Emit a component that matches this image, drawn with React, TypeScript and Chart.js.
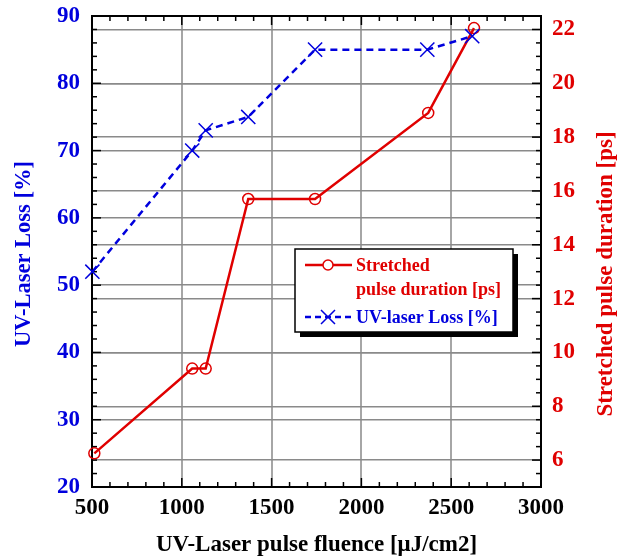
import { useEffect, useRef } from 'react';
import { Chart, registerables } from 'chart.js';
Chart.register(...registerables);

const lossFluence = [502, 1058, 1133, 1370, 1742, 2367, 2617];
const lossValues = [52, 70, 73, 75, 85, 85, 87];
const durFluence = [513, 1058, 1133, 1370, 1742, 2372, 2627];
const durValues = [6.25, 9.4, 9.4, 15.7, 15.7, 18.9, 22.05];

const xTicks = [500, 1000, 1500, 2000, 2500, 3000];
const leftTicks = [20, 30, 40, 50, 60, 70, 80, 90];
const rightTicks = [6, 8, 10, 12, 14, 16, 18, 20, 22];

const xTitle = 'UV-Laser pulse fluence [\u03bcJ/cm2]';
const yLeftTitle = 'UV-Laser Loss [%]';
const yRightTitle = 'Stretched pulse duration [ps]';
const legendDur = ['Stretched', 'pulse duration [ps]'];
const legendLoss = 'UV-laser Loss [%]';

const FONT = '"Liberation Serif", "Times New Roman", serif';
const BLUE = '#0000dd';
const RED = '#e00000';

const framePlugin = {
  id: 'frameTicks',
  beforeDatasetsDraw(chart: any) {
    const ctx = chart.ctx;
    const a = chart.chartArea;
    const x = chart.scales.x;
    const yl = chart.scales.y;
    const yr = chart.scales.y2;
    ctx.save();
    ctx.strokeStyle = '#000';
    ctx.lineWidth = 1.5;
    const tick = (x1: number, y1: number, x2: number, y2: number) => {
      ctx.beginPath();
      ctx.moveTo(x1, y1);
      ctx.lineTo(x2, y2);
      ctx.stroke();
    };
    for (let v = x.min; v <= x.max + 1e-6; v += 100) {
      const p = x.getPixelForValue(v);
      const len = Math.abs(v % 500) < 1e-6 ? 9 : 5;
      tick(p, a.bottom, p, a.bottom - len);
      tick(p, a.top, p, a.top + len);
    }
    for (let v = yl.min; v <= yl.max + 1e-6; v += 2) {
      const p = yl.getPixelForValue(v);
      const len = Math.abs(v % 10) < 1e-6 ? 9 : 5;
      tick(a.left, p, a.left + len, p);
    }
    for (let v = yr.min; v <= yr.max + 1e-6; v += 0.5) {
      const p = yr.getPixelForValue(v);
      const len = Math.abs(v % 2) < 1e-6 ? 9 : 5;
      tick(a.right, p, a.right - len, p);
    }
    ctx.lineWidth = 2;
    ctx.strokeRect(a.left, a.top, a.right - a.left, a.bottom - a.top);
    ctx.restore();
  },
  afterDraw(chart: any) {
    const ctx = chart.ctx;
    const a = chart.chartArea;
    ctx.save();
    ctx.font = `bold 23px ${FONT}`;
    ctx.textAlign = 'center';
    ctx.textBaseline = 'middle';
    ctx.fillStyle = '#000';
    ctx.fillText(xTitle, (a.left + a.right) / 2, 545);
    ctx.save();
    ctx.translate(24, 254);
    ctx.rotate(-Math.PI / 2);
    ctx.fillStyle = BLUE;
    ctx.font = `bold 22.5px ${FONT}`;
    ctx.fillText(yLeftTitle, 0, 0);
    ctx.restore();
    ctx.save();
    ctx.translate(606, 274);
    ctx.rotate(-Math.PI / 2);
    ctx.fillStyle = RED;
    ctx.fillText(yRightTitle, 0, 0);
    ctx.restore();

    // legend
    const L = 295, T = 249, R = 513, B = 332;
    ctx.fillStyle = '#000';
    ctx.fillRect(L + 5, T + 5, R - L, B - T);
    ctx.fillStyle = '#fff';
    ctx.fillRect(L, T, R - L, B - T);
    ctx.strokeStyle = '#000';
    ctx.lineWidth = 1.5;
    ctx.strokeRect(L, T, R - L, B - T);

    ctx.strokeStyle = RED;
    ctx.lineWidth = 2.5;
    ctx.beginPath();
    ctx.moveTo(305, 265);
    ctx.lineTo(352, 265);
    ctx.stroke();
    ctx.beginPath();
    ctx.arc(328, 265, 5, 0, Math.PI * 2);
    ctx.fillStyle = '#fff';
    ctx.fill();
    ctx.lineWidth = 1.5;
    ctx.stroke();
    ctx.font = `bold 18px ${FONT}`;
    ctx.textAlign = 'left';
    ctx.fillStyle = RED;
    ctx.fillText(legendDur[0], 356, 266);
    ctx.fillText(legendDur[1], 356, 290);

    ctx.strokeStyle = BLUE;
    ctx.lineWidth = 2.5;
    ctx.setLineDash([6, 4]);
    ctx.beginPath();
    ctx.moveTo(305, 317);
    ctx.lineTo(352, 317);
    ctx.stroke();
    ctx.setLineDash([]);
    ctx.lineWidth = 1.5;
    const r = 7;
    ctx.beginPath();
    ctx.moveTo(328 - r, 317 - r);
    ctx.lineTo(328 + r, 317 + r);
    ctx.moveTo(328 - r, 317 + r);
    ctx.lineTo(328 + r, 317 - r);
    ctx.stroke();
    ctx.fillStyle = BLUE;
    ctx.fillText(legendLoss, 356, 318);
    ctx.restore();
  },
};

const tickFont = { family: FONT, size: 23, weight: 'bold' };

export default function App() {
  const ref = useRef<HTMLCanvasElement | null>(null);
  useEffect(() => {
    document.body.style.margin = '0';
    const canvas = ref.current;
    if (!canvas) return;
    const chart = new Chart(canvas, {
      type: 'line',
      data: {
        datasets: [
          {
            label: 'Stretched pulse duration [ps]',
            data: durFluence.map((x, i) => ({ x, y: durValues[i] })),
            yAxisID: 'y2',
            borderColor: RED,
            borderWidth: 2.5,
            pointStyle: 'circle',
            pointRadius: 5.5,
            pointBorderWidth: 1.5,
            pointBackgroundColor: 'rgba(255,255,255,0)',
            pointBorderColor: RED,
            tension: 0,
            clip: false as any,
            order: 2,
          },
          {
            label: 'UV-laser Loss [%]',
            data: lossFluence.map((x, i) => ({ x, y: lossValues[i] })),
            yAxisID: 'y',
            borderColor: BLUE,
            borderWidth: 2.5,
            borderDash: [7, 5],
            pointStyle: 'crossRot',
            pointRadius: 10,
            pointBorderWidth: 1.5,
            pointBorderColor: BLUE,
            tension: 0,
            clip: false as any,
            order: 1,
          },
        ],
      },
      options: {
        animation: false,
        responsive: false,
        layout: { padding: { top: 16, left: 0, right: 0, bottom: 0 } },
        plugins: { legend: { display: false }, tooltip: { enabled: false } },
        scales: {
          x: {
            type: 'linear',
            min: 500,
            max: 3000,
            afterBuildTicks: (s: any) => { s.ticks = xTicks.map((v) => ({ value: v })); },
            ticks: { padding: 7, color: '#000', font: tickFont, callback: (v: any) => String(v) },
            grid: { color: '#a6a6a6', lineWidth: 2, drawTicks: false },
            border: { display: false },
            afterFit: (s: any) => { s.height = 71; s.paddingLeft = 0; s.paddingRight = 0; },
          },
          y: {
            type: 'linear',
            position: 'left',
            min: 20,
            max: 90,
            afterBuildTicks: (s: any) => { s.ticks = leftTicks.map((v) => ({ value: v })); },
            ticks: { padding: 12, color: BLUE, font: tickFont, callback: (v: any) => String(v) },
            grid: { color: '#8a8a8a', lineWidth: 1.5, drawTicks: false },
            border: { display: false },
            afterFit: (s: any) => { s.width = 92; s.paddingTop = 0; s.paddingBottom = 0; },
          },
          y2: {
            type: 'linear',
            position: 'right',
            min: 5,
            max: 22.5,
            afterBuildTicks: (s: any) => { s.ticks = rightTicks.map((v) => ({ value: v })); },
            ticks: { padding: 11, color: RED, font: tickFont, callback: (v: any) => String(v) },
            grid: { color: '#8a8a8a', lineWidth: 1.5, drawTicks: false },
            border: { display: false },
            afterFit: (s: any) => { s.width = 86; s.paddingTop = 0; s.paddingBottom = 0; },
          },
        },
      },
      plugins: [framePlugin],
    } as any);
    return () => chart.destroy();
  }, []);
  return (
    <div style={{ width: 627, height: 558 }}>
      <canvas ref={ref} width={627} height={558} style={{ width: 627, height: 558, display: 'block' }} />
    </div>
  );
}
